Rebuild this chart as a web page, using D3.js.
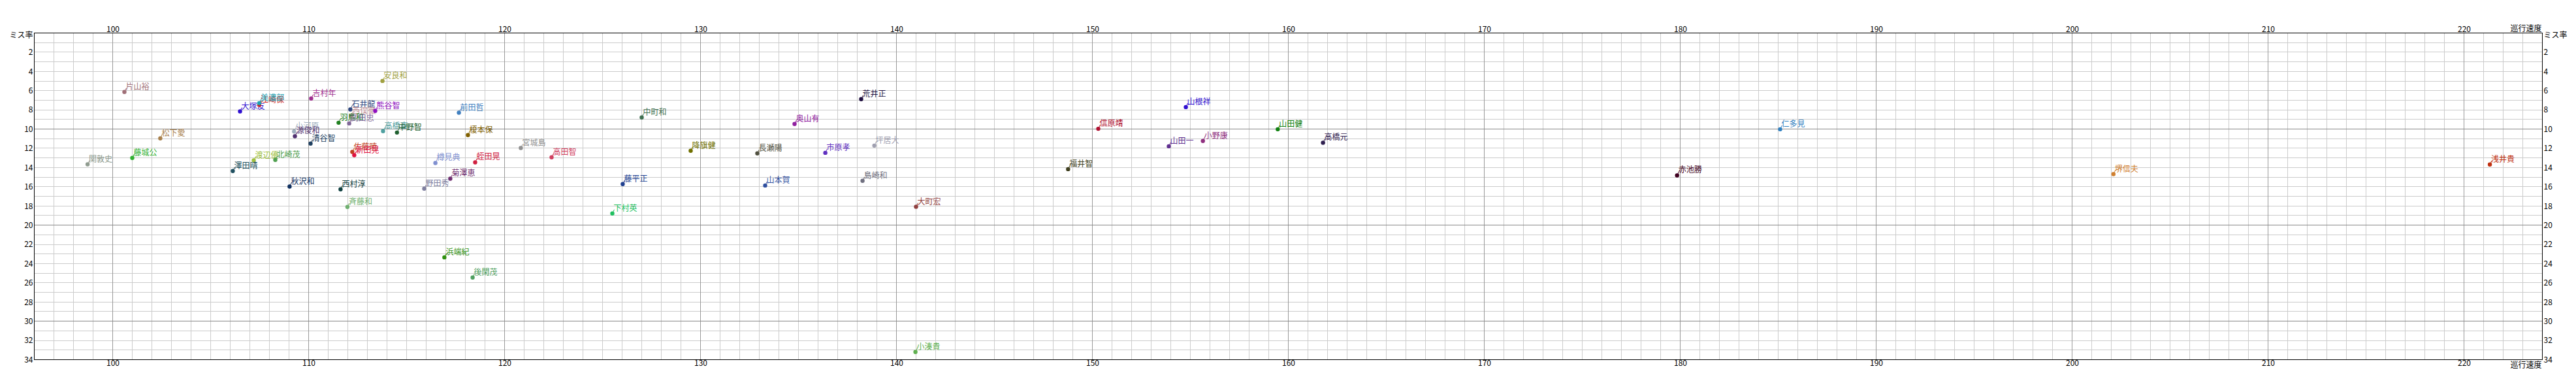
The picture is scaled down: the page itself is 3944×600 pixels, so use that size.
<!DOCTYPE html>
<html><head><meta charset="utf-8">
<script src="https://cdn.jsdelivr.net/npm/d3@7"></script>
<style>
html,body{margin:0;padding:0;background:#fff;}
svg text{font-family:"Noto Sans CJK JP","Noto Sans",sans-serif;font-size:12px;}
</style></head>
<body>
<script>
const names = ["片山裕","松下愛","藤城公","関敦史","大塚友","江崎保","美濃部","吉村年","石井龍","西俣徹","熊谷智","羽鳥和","武田忠","小河原","源俊和","清谷智","佐藤暁","新田晃","高橋直","渡辺優","北崎茂","澤田晴","秋沢和","西村淳","斉藤和","安良和","前田哲","中野智","榎本保","宮城島","高田智","樽見典","蛭田晃","菊澤恵","野田秀","中町和","藤平正","下村英","浜端紀","後閑茂","荒井正","奥山有","降旗健","長瀬陽","市原孝","坪居大","山本賀","島崎和","大町宏","小湊貴","山根祥","信原靖","山田一","小野康","山田健","高橋元","福井智","仁多見","赤池勝","堺信夫","浅井貴"];
const speed = [100.6,102.43,101.0,98.72,106.5,107.48,107.48,110.13,112.13,112.16,113.4,111.53,112.07,109.26,109.3,110.1,112.23,112.33,113.8,107.2,108.3,106.13,109.03,111.63,111.98,113.77,117.67,114.51,118.13,120.83,122.4,116.47,118.5,117.23,115.9,127.0,126.03,125.5,116.93,118.37,138.2,134.8,129.5,132.9,136.37,138.87,133.3,138.27,141.0,140.97,154.77,150.3,153.9,155.64,159.46,161.77,148.76,185.1,179.84,202.11,221.32];
const missRate = [6.14,10.97,13.01,13.67,8.16,7.48,7.3,6.82,7.96,8.64,8.11,9.34,9.41,10.25,10.74,11.51,12.38,12.72,10.22,13.26,13.21,14.37,15.98,16.27,18.11,4.99,8.3,10.36,10.63,11.97,12.94,13.53,13.46,15.16,16.2,8.79,15.73,18.79,23.35,25.45,6.89,9.47,12.26,12.53,12.47,11.72,15.87,15.39,18.09,33.2,7.71,9.97,11.79,11.24,10.02,11.42,14.17,10.02,14.82,14.69,13.69];
const colors = ["#a07078","#a8804c","#30b030","#909c90","#3010d0","#d02020","#20a0b0","#a03090","#304880","#c09098","#9010c0","#208020","#806898","#a0b0c0","#503070","#204060","#c04020","#e01040","#50a0a0","#a0c040","#50a050","#205060","#103060","#104040","#70b070","#a0a040","#4080c0","#206030","#806000","#909090","#d04060","#8090d0","#d02040","#703070","#8080a0","#407050","#204090","#20c060","#309010","#50a060","#201040","#9020a0","#707000","#505040","#6030c0","#a0a0b0","#3050a0","#707080","#904040","#60b050","#3010d0","#b01030","#603090","#903080","#108010","#302050","#404020","#3080c0","#400020","#d08030","#c03010"];
const xTicks = [100,110,120,130,140,150,160,170,180,190,200,210,220];
const yTicks = [0,2,4,6,8,10,12,14,16,18,20,22,24,26,28,30,32,34];
const xTitle = "巡行速度";
const yTitle = "ミス率";

const W = 3944, H = 600;
const L = 52.5, R = 3892.5, T = 50.5, B = 550.5;
const x = d3.scaleLinear().domain([96,224]).range([L,R]);
const y = d3.scaleLinear().domain([0,34]).range([T,B]);

const svg = d3.select("body").append("svg").attr("width",W).attr("height",H);

// grid
const g = svg.append("g").attr("shape-rendering","crispEdges");
const xMinor = d3.range(97,224).filter(v => v % 10 !== 0);
const yMinor = d3.range(1,34).filter(v => v % 10 !== 0);
g.selectAll(".xm").data(xMinor).join("line")
  .attr("x1",d=>x(d)).attr("x2",d=>x(d)).attr("y1",T).attr("y2",B)
  .attr("stroke","#cccccc").attr("stroke-width",1);
g.selectAll(".ym").data(yMinor).join("line")
  .attr("x1",L).attr("x2",R).attr("y1",d=>y(d)).attr("y2",d=>y(d))
  .attr("stroke","#cccccc").attr("stroke-width",1);
g.selectAll(".xM").data(xTicks).join("line")
  .attr("x1",d=>x(d)).attr("x2",d=>x(d)).attr("y1",T).attr("y2",B)
  .attr("stroke","#999999").attr("stroke-width",1);
g.selectAll(".yM").data([10,20,30]).join("line")
  .attr("x1",L).attr("x2",R).attr("y1",d=>y(d)).attr("y2",d=>y(d))
  .attr("stroke","#888888").attr("stroke-width",1);
g.append("rect").attr("x",L).attr("y",T).attr("width",R-L).attr("height",B-T)
  .attr("fill","none").attr("stroke","#000").attr("stroke-width",1);

// axes
function styleAxis(sel){
  sel.select(".domain").remove();
  sel.selectAll(".tick line").remove();
  sel.selectAll("text").attr("fill","#000").style("font-size","12px")
    .style("font-family",'"Noto Sans CJK JP","Noto Sans",sans-serif');
}
svg.append("g").attr("transform",`translate(0,${T-2})`)
  .call(d3.axisTop(x).tickValues(xTicks).tickSize(0).tickPadding(0).tickFormat(d3.format("d")))
  .call(styleAxis);
svg.append("g").attr("transform",`translate(0,${B})`)
  .call(d3.axisBottom(x).tickValues(xTicks).tickSize(0).tickPadding(1).tickFormat(d3.format("d")))
  .call(styleAxis);
const yFmt = d => d === 0 ? yTitle : d;
svg.append("g").attr("transform",`translate(${L-2},0)`)
  .call(d3.axisLeft(y).tickValues(yTicks).tickSize(0).tickPadding(0).tickFormat(yFmt))
  .call(styleAxis);
svg.append("g").attr("transform",`translate(${R+2},0)`)
  .call(d3.axisRight(y).tickValues(yTicks).tickSize(0).tickPadding(0).tickFormat(yFmt))
  .call(styleAxis);
svg.selectAll("text").filter(function(){return this.textContent===yTitle;}).attr("dy","0.6em");

svg.append("text").attr("x",R-1).attr("y",T-3).attr("text-anchor","end").attr("fill","#000").text(xTitle);
svg.append("text").attr("x",R-1).attr("y",B+12).attr("text-anchor","end").attr("fill","#000").text(xTitle);

// points
const data = names.map((n,i)=>({name:n, sx:speed[i], my:missRate[i], c:colors[i]}));
const pg = svg.selectAll(".pt").data(data).join("g").attr("class","pt");
pg.append("line")
  .attr("x1",d=>x(d.sx)).attr("y1",d=>y(d.my))
  .attr("x2",d=>x(d.sx)+3).attr("y2",d=>y(d.my)-6)
  .attr("stroke",d=>d.c).attr("stroke-width",1);
pg.append("circle").attr("cx",d=>x(d.sx)).attr("cy",d=>y(d.my)).attr("r",3.2).attr("fill",d=>d.c);
pg.append("text").attr("x",d=>x(d.sx)+2).attr("y",d=>y(d.my)-4)
  .attr("fill",d=>d.c).text(d=>d.name);
</script>
</body></html>
